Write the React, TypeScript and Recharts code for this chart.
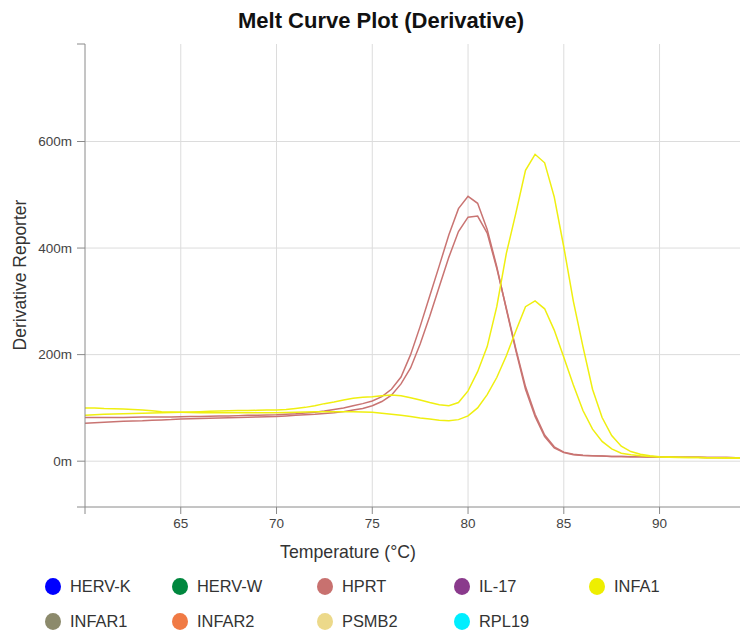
import React from "react"
import {
  LineChart,
  Line,
  XAxis,
  YAxis,
  CartesianGrid,
} from "recharts"

// temperatures (°C), 0.5 step
const TEMPS = [
  60, 60.5, 61, 61.5, 62, 62.5, 63, 63.5, 64, 64.5,
  65, 65.5, 66, 66.5, 67, 67.5, 68, 68.5, 69, 69.5,
  70, 70.5, 71, 71.5, 72, 72.5, 73, 73.5, 74, 74.5,
  75, 75.5, 76, 76.5, 77, 77.5, 78, 78.5, 79, 79.5,
  80, 80.5, 81, 81.5, 82, 82.5, 83, 83.5, 84, 84.5,
  85, 85.5, 86, 86.5, 87, 87.5, 88, 88.5, 89, 89.5,
  90, 90.5, 91, 91.5, 92, 92.5, 93, 93.5, 94, 94.5,
]

// derivative reporter, in milli-units
const HPRT_A = [
  82, 82, 82, 82, 82, 82.5, 83, 83, 83, 83,
  83.5, 84, 84, 84.5, 85, 85, 85.5, 86, 86, 86.5,
  87, 88, 89, 90.5, 92, 94, 97, 100, 104, 108,
  113, 121, 135, 158, 200, 253, 310, 367, 425, 474,
  497, 484, 435, 365, 285, 207, 135, 84, 46, 25,
  16, 12, 10.5, 10, 9.5, 9, 9, 8.5, 8.5, 8,
  8, 8, 7.5, 7.5, 7.5, 7, 7, 7, 6.5, 6.5,
]

const HPRT_B = [
  71, 72, 73, 74, 75, 75.5, 76, 77, 77.5, 78,
  79, 79.5, 80, 80.5, 81, 81.5, 82, 82.5, 83, 83.5,
  84, 85, 86, 87, 88, 89.5, 91, 93, 96, 99,
  104, 112, 124, 145, 175, 220, 272, 328, 383, 431,
  458, 460, 428, 362, 287, 210, 140, 88, 49, 27,
  17, 13, 11, 10, 9.5, 9, 9, 8.5, 8.5, 8,
  8, 8, 7.5, 7.5, 7.5, 7, 7, 7, 6.5, 6.5,
]

const INFA1_A = [
  86, 87, 88, 88.5, 89, 89.5, 90, 90.5, 91, 91.5,
  92, 92.5, 93, 93.5, 94, 94.5, 95, 95, 95.5, 96,
  96, 97, 99, 101, 104, 108, 111, 115, 118, 120,
  121, 123, 124, 123, 119, 115, 110, 106, 104, 110,
  132, 168, 215, 290, 390, 466, 546, 576, 560, 496,
  402, 300, 215, 135, 82, 48, 28, 18, 13, 10,
  8.5, 8, 7.5, 7, 7, 6.5, 6.5, 6, 6, 6,
]

const INFA1_B = [
  100, 100, 99, 98.5, 98, 97, 96, 94.5, 93, 92.5,
  92, 91.5, 91, 91, 91, 91, 91, 91, 91, 91,
  91, 91.5, 92, 92.5, 93, 93, 93, 93, 93, 92.5,
  92, 90, 88, 86, 84, 81, 79, 77, 76, 78,
  85, 100, 125, 157, 198, 245, 290, 301, 286, 246,
  195, 143, 95, 60, 37, 23, 15, 12, 10, 9,
  8, 7.5, 7, 7, 7, 6.5, 6.5, 6, 6, 6,
]

const X_TICKS = [60, 65, 70, 75, 80, 85, 90]
const Y_TICKS = [-86, 0, 200, 400, 600, 783]
const Y_GRID = [0, 200, 400, 600]
const X_GRID = [65, 70, 75, 80, 85, 90]

const LEGEND_ROW1 = [
  { name: "HERV-K", color: "#0000ff" },
  { name: "HERV-W", color: "#00873e" },
  { name: "HPRT", color: "#c8716f" },
  { name: "IL-17", color: "#8a3a8c" },
  { name: "INFA1", color: "#eeee00" },
]
const LEGEND_ROW2 = [
  { name: "INFAR1", color: "#8c8a6c" },
  { name: "INFAR2", color: "#f07a44" },
  { name: "PSMB2", color: "#ecd98a" },
  { name: "RPL19", color: "#00eeff" },
]
const LEGEND_X = [45, 172, 317, 454, 589]

const RED = "#c97472"
const YELLOW = "#efef10"
const FONT = "'Liberation Sans', Arial, sans-serif"

const data = TEMPS.map((t, i) => ({
  t,
  hprtA: HPRT_A[i],
  hprtB: HPRT_B[i],
  infaA: INFA1_A[i],
  infaB: INFA1_B[i],
}))

const edgeX = (v: number) => (v === 60 ? "" : String(v))
const edgeY = (v: number) => (v === -86 || v === 783 ? "" : `${v}m`)

export default function App() {
  return (
    <div
      style={{
        position: "absolute",
        left: 0,
        top: 0,
        width: 740,
        height: 630,
        background: "#fff",
        fontFamily: FONT,
        color: "#333",
      }}
    >
      <div
        style={{
          position: "absolute",
          left: 0,
          width: 762,
          top: 8,
          textAlign: "center",
          fontSize: 22,
          fontWeight: "bold",
          color: "#111",
        }}
      >
        Melt Curve Plot (Derivative)
      </div>

      <div
        style={{
          position: "absolute",
          left: 20,
          top: 275,
          transform: "translate(-50%, -50%) rotate(-90deg)",
          whiteSpace: "nowrap",
          fontSize: 17.5,
        }}
      >
        Derivative Reporter
      </div>

      <div
        style={{
          position: "absolute",
          left: 348,
          top: 552,
          transform: "translate(-50%, -50%)",
          whiteSpace: "nowrap",
          fontSize: 17.7,
        }}
      >
        Temperature (°C)
      </div>

      <div style={{ position: "absolute", left: 0, top: 0 }}>
        <LineChart
          width={740}
          height={540}
          data={data}
          margin={{ top: 44, right: 0, left: 0, bottom: 0 }}
        >
          <CartesianGrid
            stroke="#dcdcdc"
            horizontalValues={Y_GRID}
            verticalValues={X_GRID}
          />
          <XAxis
            dataKey="t"
            type="number"
            domain={[60, 94.2]}
            allowDataOverflow
            ticks={X_TICKS}
            tickFormatter={edgeX}
            height={33}
            tickSize={7}
            tickMargin={4}
            stroke="#8a8a8a"
            tick={{ fontSize: 13.5, fill: "#444", fontFamily: FONT }}
          />
          <YAxis
            type="number"
            domain={[-86, 783]}
            allowDataOverflow
            ticks={Y_TICKS}
            tickFormatter={edgeY}
            width={85}
            tickSize={8}
            tickMargin={5}
            stroke="#8a8a8a"
            tick={{ fontSize: 13.5, fill: "#444", fontFamily: FONT }}
          />
          <Line dataKey="hprtA" stroke={RED} strokeWidth={1.5} dot={false} isAnimationActive={false} />
          <Line dataKey="hprtB" stroke={RED} strokeWidth={1.5} dot={false} isAnimationActive={false} />
          <Line dataKey="infaA" stroke={YELLOW} strokeWidth={1.5} dot={false} isAnimationActive={false} />
          <Line dataKey="infaB" stroke={YELLOW} strokeWidth={1.5} dot={false} isAnimationActive={false} />
        </LineChart>
      </div>

      {[LEGEND_ROW1, LEGEND_ROW2].map((row, r) =>
        row.map((item, c) => (
          <div
            key={item.name}
            style={{
              position: "absolute",
              left: LEGEND_X[c],
              top: 577 + r * 35,
              display: "flex",
              alignItems: "center",
              fontSize: 16.4,
              whiteSpace: "nowrap",
            }}
          >
            <span
              style={{
                width: 16,
                height: 17,
                borderRadius: "50%",
                background: item.color,
                marginRight: 9,
                display: "inline-block",
              }}
            />
            {item.name}
          </div>
        ))
      )}
    </div>
  )
}
